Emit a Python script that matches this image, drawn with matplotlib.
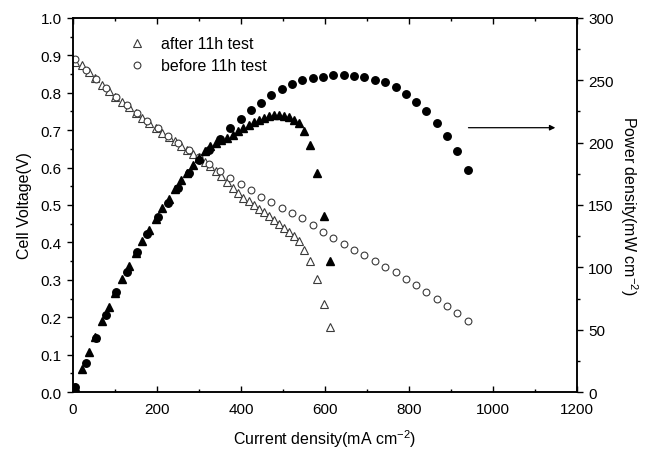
'''Cell voltage and power density before/after an 11h test.'''

import matplotlib
matplotlib.use('Agg')
import matplotlib.pyplot as plt
from matplotlib.ticker import MultipleLocator

plt.rcParams['font.family'] = ['Liberation Sans', 'DejaVu Sans']
plt.rcParams['mathtext.default'] = 'regular'

# before 11h test
current_before = [5, 30, 54, 79, 103, 128, 153, 177, 202, 226, 251, 276, 300,
                  325, 349, 374, 399, 423, 448, 472, 497, 522, 546, 571, 595,
                  620, 645, 669, 694, 718, 743, 768, 792, 817, 841, 866, 891,
                  915, 940]
voltage_before = [0.890, 0.862, 0.836, 0.812, 0.789, 0.767, 0.745, 0.725, 0.705,
                  0.685, 0.665, 0.646, 0.627, 0.609, 0.591, 0.573, 0.556, 0.539,
                  0.522, 0.507, 0.493, 0.479, 0.465, 0.446, 0.428, 0.411, 0.395,
                  0.380, 0.365, 0.349, 0.335, 0.320, 0.302, 0.287, 0.268, 0.250,
                  0.231, 0.211, 0.190]
power_before = [4, 23, 43, 62, 80, 96, 112, 127, 140, 152, 164, 176, 186, 194,
                203, 212, 219, 226, 232, 238, 243, 247, 250, 252, 253, 254, 254,
                253.5, 252.5, 250.5, 248.5, 244.5, 239, 233, 225, 216, 205.5,
                193, 178]

# after 11h test
current_after = [5, 21, 37, 53, 69, 85, 101, 117, 133, 149, 165, 181, 197, 213,
                 228, 243, 258, 272, 286, 300, 314, 327, 340, 353, 366, 380, 392,
                 405, 418, 431, 443, 455, 467, 479, 491, 503, 515, 527, 538, 550,
                 565, 582, 598, 613]
voltage_after = [0.882, 0.875, 0.856, 0.839, 0.822, 0.806, 0.790, 0.775, 0.761,
                 0.746, 0.733, 0.719, 0.706, 0.693, 0.681, 0.670, 0.658, 0.648,
                 0.637, 0.627, 0.615, 0.603, 0.590, 0.578, 0.562, 0.545, 0.532,
                 0.520, 0.510, 0.500, 0.490, 0.480, 0.470, 0.460, 0.449, 0.438,
                 0.427, 0.416, 0.404, 0.381, 0.351, 0.303, 0.236, 0.175]
power_after = [4.4, 18.4, 31.7, 44.5, 56.7, 68.5, 79.8, 90.7, 101.2, 111.2, 121,
               130, 139, 147.6, 155, 163, 170, 176, 182, 188, 193, 197, 200, 202,
               204, 206, 209, 212, 214.5, 216.5, 218, 219.5, 221, 222, 222,
               221.5, 220.5, 218.5, 215.5, 209.6, 198, 176, 141, 105]

fig = plt.figure(figsize=(6.47, 4.52), dpi=100)
ax = fig.add_axes([0.1128, 0.1305, 0.779, 0.8275])
ax2 = ax.twinx()

# Voltage (open markers)
ax.plot(current_after, voltage_after, '^', mfc='white', mec='#3a3a3a',
        mew=0.8, ms=5.2, linestyle='none', label='after 11h test')
ax.plot(current_before, voltage_before, 'o', mfc='white', mec='#3a3a3a',
        mew=0.8, ms=4.9, linestyle='none', label='before 11h test')

# Power (filled markers)
ax2.plot(current_before, power_before, 'o', color='black', ms=5.4,
         linestyle='none')
ax2.plot(current_after, power_after, '^', color='black', ms=5.6,
         linestyle='none')

ax.set_xlim(0, 1200)
ax.set_ylim(0, 1.0)
ax2.set_ylim(0, 300)

ax.xaxis.set_major_locator(MultipleLocator(200))
ax.xaxis.set_minor_locator(MultipleLocator(100))
ax.yaxis.set_major_locator(MultipleLocator(0.1))
ax.yaxis.set_minor_locator(MultipleLocator(0.05))
ax.yaxis.set_major_formatter(matplotlib.ticker.FormatStrFormatter('%.1f'))
ax2.yaxis.set_major_locator(MultipleLocator(50))
ax2.yaxis.set_minor_locator(MultipleLocator(25))

ax.tick_params(axis='x', which='both', direction='in', top=True,
               labelsize=11, pad=7)
ax.tick_params(axis='y', which='both', direction='out', labelsize=11)
ax2.tick_params(axis='y', which='both', direction='out', labelsize=11)
for a in (ax, ax2):
    a.tick_params(which='major', length=4.5, width=1)
    a.tick_params(which='minor', length=2.5, width=1)
    for spine in a.spines.values():
        spine.set_linewidth(1.1)

ax.set_xlabel('Current density(mA cm$^{-2}$)', fontsize=11.5, labelpad=8)
ax.set_ylabel('Cell Voltage(V)', fontsize=11.5, labelpad=6)
ax2.set_ylabel('Power density(mW cm$^{-2}$)', fontsize=11.5, rotation=270,
               labelpad=19)

ax.legend(loc='upper left', bbox_to_anchor=(0.08, 0.99), frameon=False,
          fontsize=11.5, handletextpad=0.9, labelspacing=0.45, numpoints=1,
          handlelength=1.2)

# arrow pointing to the power axis
ax2.annotate('', xy=(1155, 212), xytext=(935, 212),
             arrowprops=dict(arrowstyle='-|>', color='black', lw=0.9,
                             mutation_scale=8))

fig.savefig('out.png', dpi=100)
